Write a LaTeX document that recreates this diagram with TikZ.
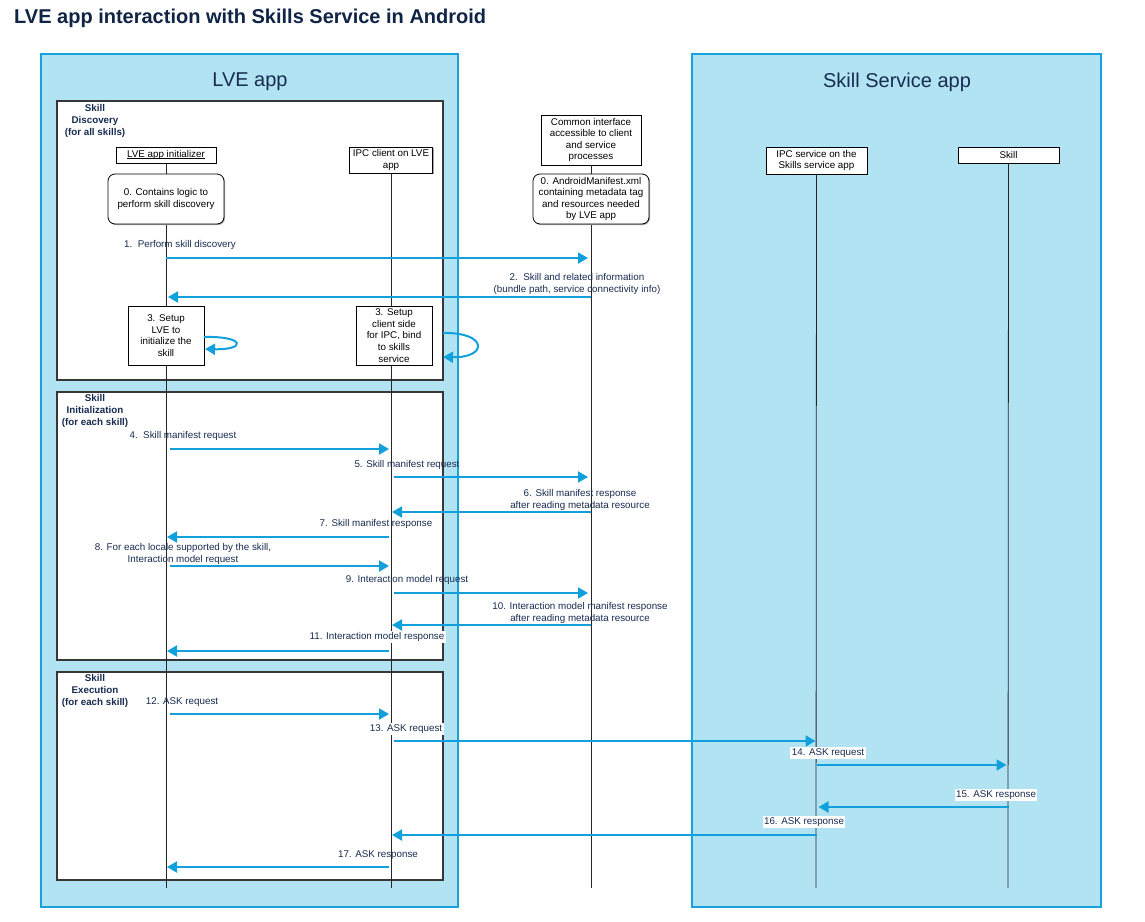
\documentclass[tikz,border=0pt]{standalone}
\usepackage{fontspec}
\setmainfont{Liberation Sans}
\usetikzlibrary{arrows.meta,shadows}
\definecolor{bluefill}{RGB}{177,227,243}
\definecolor{blueborder}{RGB}{22,163,221}
\definecolor{arrowblue}{RGB}{17,160,219}
\definecolor{navy}{RGB}{24,44,80}
\definecolor{titlenavy}{RGB}{16,36,70}
\definecolor{grpgray}{RGB}{55,55,55}
\newcommand\myul[1]{\setbox0\hbox{#1}\rlap{\rule[-1.4pt]{\wd0}{0.6pt}}\box0}
\tikzset{
  appbox/.style={draw=blueborder, fill=bluefill, line width=1.8pt},
  grpbox/.style={draw=grpgray, fill=white, line width=1.1pt},
  grplbl/.style={font=\bfseries\fontsize{9.8}{11.8}\selectfont, text=navy, align=center, inner sep=0pt},
  applbl/.style={font=\fontsize{20}{24}\selectfont, text=navy, inner sep=0pt},
  hdr/.style={draw=black, fill=white, line width=0.8pt, font=\fontsize{9.8}{11.6}\selectfont, align=center, inner sep=1pt,
    drop shadow={shadow xshift=1pt, shadow yshift=-1pt, fill=gray!70, opacity=1}},
  actbox/.style={hdr, rounded corners=7pt},
  sqbox/.style={hdr},
  life/.style={draw=black!85, line width=0.8pt},
  msg/.style={draw=arrowblue, line width=2pt, -{Triangle[length=10pt,width=11pt]}},
  lbl/.style={font=\fontsize{9.8}{11.8}\selectfont, text=navy, align=center, inner sep=1.5pt},
  lblw/.style={lbl, fill=white},
}
\begin{document}
\begin{tikzpicture}[x=1pt,y=-1pt]
\useasboundingbox (0,0) rectangle (1145,921);
\fill[white] (0,0) rectangle (1145,921);
% title
\node[anchor=west, font=\bfseries\fontsize{20}{24}\selectfont, text=titlenavy, inner sep=0pt] (title) at (14,18) {LVE app interaction with Skills Service in Android};
% app boxes
\draw[appbox] (41,54) rectangle (458,907);
\draw[appbox] (692,54) rectangle (1101,907);
\node[applbl] (lvelbl) at (250,82) {LVE app};
\node[applbl] (sslbl) at (897,82) {Skill Service app};
% group boxes
\draw[grpbox] (57,101) rectangle (443,380);
\draw[grpbox] (57,392) rectangle (443,660);
\draw[grpbox] (57,672) rectangle (443,880);
\node[grplbl] (g1) at (95,121) {Skill\\Discovery\\(for all skills)};
\node[grplbl] (g2) at (95,411) {Skill\\Initialization\\(for each skill)};
\node[grplbl] (g3) at (95,691) {Skill\\Execution\\(for each skill)};
% headers
\node[hdr, minimum width=100pt, minimum height=16pt] (lveinit) at (166,155) {\myul{LVE app initializer}};
\node[hdr, minimum width=83pt, minimum height=26pt] (ipcc) at (391,160) {IPC client on LVE\\app};
\node[hdr, minimum width=100pt, minimum height=50pt] (common) at (591,140) {Common interface\\accessible to client\\and service\\processes};
\node[hdr, minimum width=101pt, minimum height=27pt] (ipcs) at (816.5,160.5) {IPC service on the\\Skills service app};
\node[hdr, minimum width=101pt, minimum height=16pt] (skill) at (1008.5,155) {Skill};
% lifelines
\coordinate (lveinitEnd) at (166,888);
\coordinate (ipccEnd) at (391,888);
\coordinate (commonEnd) at (591,888);
\coordinate (ipcsEnd) at (816,888);
\coordinate (skillEnd) at (1008,888);
\draw[life] (lveinit.south) -- (lveinitEnd);
\draw[life] (ipcc.south) -- (ipccEnd);
\draw[life] (common.south) -- (commonEnd);
\draw[life] (ipcs.south) -- (ipcsEnd);
\draw[life] (skill.south) -- (skillEnd);
% activation boxes
\node[actbox, minimum width=116pt, minimum height=50pt] (act0) at (166,199) {0. Contains logic to\\perform skill discovery};
\node[actbox, minimum width=116pt, minimum height=50pt] (man0) at (591,199) {0. AndroidManifest.xml\\containing metadata tag\\and resources needed\\by LVE app};
\node[sqbox, minimum width=76pt, minimum height=59pt] (set1) at (166,335.5) {3. Setup\\LVE to\\initialize the\\skill};
\node[sqbox, minimum width=76pt, minimum height=59pt] (set2) at (394,335.5) {3. Setup\\client side\\for IPC, bind\\to skills\\service};
% self loops
\coordinate (l1a) at (204,337);
\coordinate (l1b) at (205,349);
\draw[msg] (l1a) .. controls (246,336) and (246,350) .. (l1b);
\coordinate (l2a) at (443,333);
\coordinate (l2b) at (443,357);
\draw[msg] (l2a) .. controls (488,332) and (488,358) .. (l2b);
% messages
\draw[msg] (lveinit |- 0,258) -- ([xshift=-3pt]common |- 0,258);
\node[lbl] (m1) at (180,245) {1.\ \ Perform skill discovery};
\draw[msg] (common |- 0,297) -- ([xshift=2pt]lveinit |- 0,297);
\node[lbl] (m2) at (577,284) {2.\ \ Skill and related information\\(bundle path, service connectivity info)};
\draw[msg] ([xshift=4pt]lveinit |- 0,449) -- ([xshift=-2pt]ipcc |- 0,449);
\node[lbl] (m4) at (183,436) {4.\ \ Skill manifest request};
\draw[msg] ([xshift=3pt]ipcc |- 0,477) -- ([xshift=-3pt]common |- 0,477);
\node[lbl] (m5) at (407,465) {5. Skill manifest request};
\draw[msg] (common |- 0,512) -- ([xshift=1pt]ipcc |- 0,512);
\node[lbl] (m6) at (580,500) {6. Skill manifest response\\after reading metadata resource};
\draw[msg] ([xshift=-2pt]ipcc |- 0,537) -- ([xshift=1pt]lveinit |- 0,537);
\node[lbl] (m7) at (376,524) {7. Skill manifest response};
\draw[msg] ([xshift=4pt]lveinit |- 0,566) -- ([xshift=-2pt]ipcc |- 0,566);
\node[lbl] (m8) at (183,554) {8. For each locale supported by the skill,\\Interaction model request};
\draw[msg] ([xshift=3pt]ipcc |- 0,593) -- ([xshift=-3pt]common |- 0,593);
\node[lbl] (m9) at (407,580) {9. Interaction model request};
\draw[msg] (common |- 0,625) -- ([xshift=1pt]ipcc |- 0,625);
\node[lbl] (m10) at (580,613) {10. Interaction model manifest response\\after reading metadata resource};
\draw[msg] ([xshift=-2pt]ipcc |- 0,651) -- ([xshift=1pt]lveinit |- 0,651);
\node[lblw] (m11) at (377,637) {11. Interaction model response};
\draw[msg] ([xshift=4pt]lveinit |- 0,714) -- ([xshift=-2pt]ipcc |- 0,714);
\node[lbl] (m12) at (182,702) {12. ASK request};
\draw[msg] ([xshift=3pt]ipcc |- 0,741) -- ([xshift=-1pt]ipcs |- 0,741);
\node[lblw] (m13) at (406,729) {13. ASK request};
\draw[msg] (ipcs |- 0,765) -- ([xshift=-2pt]skill |- 0,765);
\node[lblw] (m14) at (828,753) {14. ASK request};
\draw[msg] (skill |- 0,807) -- ([xshift=2pt]ipcs |- 0,807);
\node[lblw] (m15) at (996,795) {15. ASK response};
\draw[msg] (ipcs |- 0,835) -- ([xshift=1pt]ipcc |- 0,835);
\node[lblw] (m16) at (804,822) {16. ASK response};
\draw[msg] ([xshift=-2pt]ipcc |- 0,867) -- ([xshift=1pt]lveinit |- 0,867);
\node[lbl] (m17) at (378,855) {17. ASK response};
\end{tikzpicture}
\end{document}
